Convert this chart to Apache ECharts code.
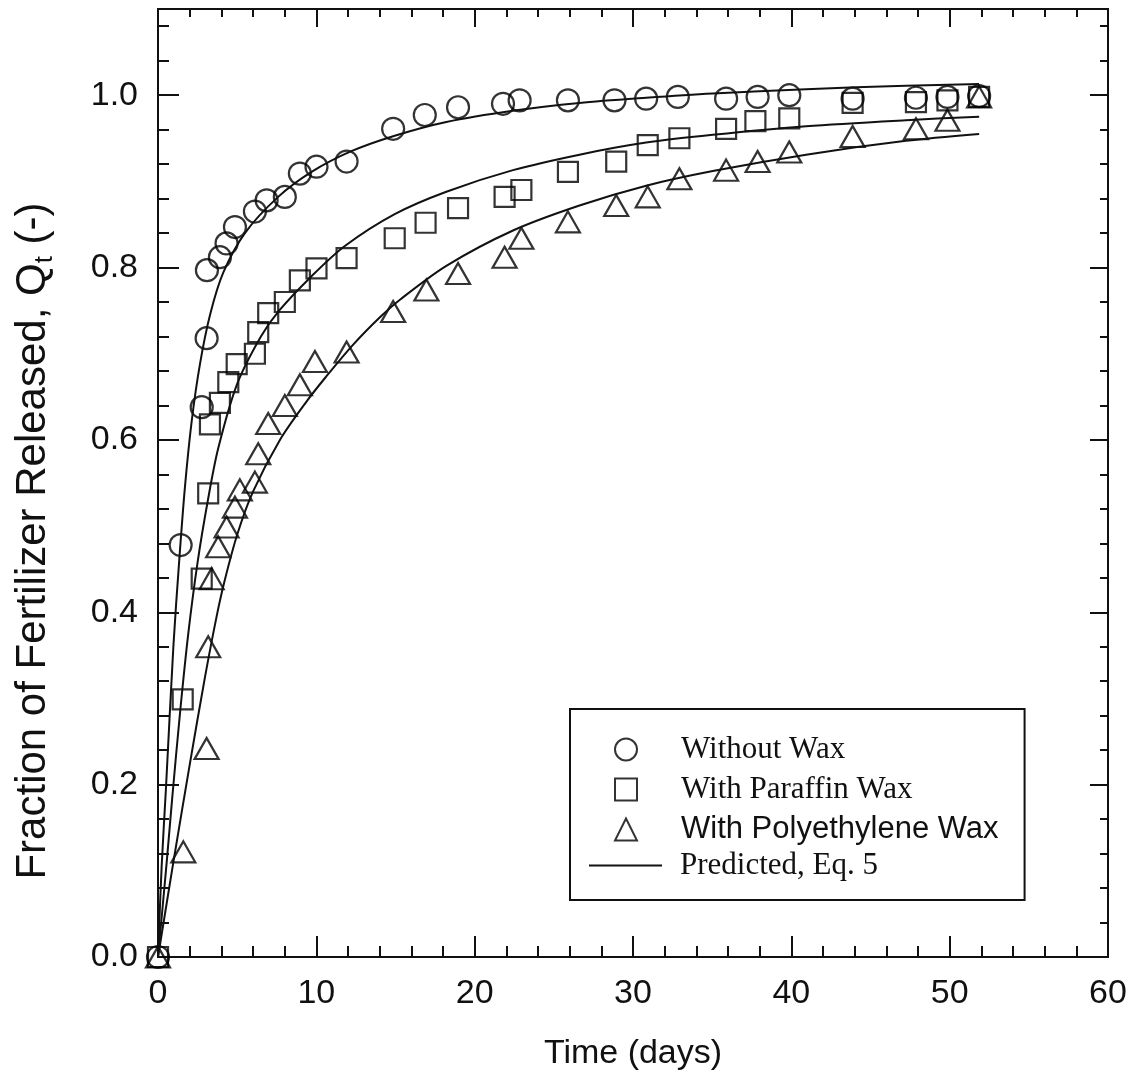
<!DOCTYPE html>
<html><head><meta charset="utf-8">
<script src="https://cdn.jsdelivr.net/npm/echarts@6/dist/echarts.min.js"></script>
<style>html,body{margin:0;padding:0;background:#fff}#c{width:1136px;height:1079px}</style>
</head><body><div id="c"></div>
<script>
// ---------- data ----------
const legendNames = ['Without Wax', 'With Paraffin Wax', 'With Polyethylene Wax', 'Predicted, Eq. 5'];
const xTickLabels = ['0', '10', '20', '30', '40', '50', '60'];
const yTickLabels = ['0.0', '0.2', '0.4', '0.6', '0.8', '1.0'];

const withoutWax = [[0,0],[1.43,0.478],[2.76,0.638],[3.07,0.718],[3.09,0.797],[3.91,0.812],[4.33,0.828],[4.86,0.847],[6.12,0.865],[6.86,0.878],[8.01,0.882],[8.96,0.909],[10.01,0.917],[11.91,0.923],[14.85,0.961],[16.85,0.977],[18.95,0.986],[21.79,0.990],[22.84,0.994],[25.89,0.994],[28.83,0.994],[30.83,0.996],[32.83,0.998],[35.88,0.996],[37.87,0.998],[39.87,1.000],[43.87,0.996],[47.87,0.997],[49.86,0.998],[51.86,0.999]];
const paraffinWax = [[0,0],[1.56,0.299],[2.76,0.439],[3.17,0.538],[3.28,0.618],[3.91,0.643],[4.44,0.667],[4.97,0.688],[6.12,0.700],[6.33,0.725],[6.96,0.747],[8.01,0.760],[8.96,0.785],[10.01,0.799],[11.91,0.811],[14.95,0.834],[16.9,0.852],[18.95,0.869],[21.89,0.882],[22.95,0.890],[25.89,0.911],[28.94,0.923],[30.93,0.942],[32.93,0.950],[35.88,0.961],[37.73,0.970],[39.87,0.973],[43.87,0.991],[47.87,0.992],[49.86,0.994],[51.86,0.998]];
const polyethyleneWax = [[0,0],[1.60,0.122],[3.07,0.242],[3.17,0.360],[3.39,0.439],[3.80,0.476],[4.33,0.499],[4.86,0.522],[5.17,0.542],[6.12,0.551],[6.33,0.584],[6.96,0.619],[8.01,0.640],[8.96,0.664],[9.91,0.691],[11.91,0.702],[14.85,0.749],[16.95,0.774],[18.95,0.793],[21.89,0.812],[22.95,0.834],[25.89,0.853],[28.94,0.872],[30.93,0.882],[32.93,0.903],[35.88,0.913],[37.87,0.923],[39.87,0.934],[43.87,0.952],[47.87,0.961],[49.86,0.971],[51.86,0.998]];

const predictedNoWax = [[0,0],[0.23,0.105],[0.5,0.195],[0.97,0.36],[1.34,0.46],[1.70,0.545],[2.13,0.622],[2.65,0.688],[3.3,0.746],[4.12,0.794],[5.49,0.840],[7.59,0.882],[9.70,0.911],[12.21,0.935],[14.95,0.953],[18.21,0.969],[22.42,0.982],[26.62,0.991],[30.83,0.997],[35.04,1.002],[40.93,1.007],[47.24,1.011],[51.86,1.013]];
const predictedParaffin = [[0,0],[0.55,0.11],[0.9,0.185],[1.4,0.285],[1.91,0.375],[2.5,0.458],[3.17,0.532],[3.8,0.59],[5.0,0.665],[6.5,0.72],[7.65,0.75],[9.7,0.79],[11.8,0.825],[14.95,0.862],[18.21,0.888],[22.42,0.913],[26.62,0.931],[30.83,0.945],[35.04,0.954],[40.93,0.964],[47.24,0.971],[51.86,0.975]];
const predictedPolyethylene = [[0,0],[0.97,0.11],[2.02,0.225],[2.97,0.325],[3.7,0.395],[4.2,0.436],[5.0,0.49],[6.0,0.54],[7.7,0.6],[9.4,0.645],[10.6,0.673],[12.3,0.71],[14.0,0.742],[15.3,0.763],[18.21,0.802],[22.42,0.843],[26.62,0.872],[30.83,0.895],[35.04,0.912],[40.93,0.931],[47.24,0.947],[51.86,0.955]];

// ---------- chart ----------
const ink = '#111';
const sans = 'Liberation Sans, Arial, sans-serif';
const serif = 'Liberation Serif, Times New Roman, serif';

function xAxisDef(pos, major, minor, labels) {
  return {
    type: 'value', position: pos, min: 0, max: 60, interval: 10,
    axisLine: { show: true, onZero: false, lineStyle: { color: ink, width: 2 } },
    axisTick: { show: true, inside: true, length: major, lineStyle: { color: ink, width: 2 } },
    minorTick: { show: true, splitNumber: 5, length: minor, lineStyle: { color: ink, width: 2 } },
    splitLine: { show: false }, minorSplitLine: { show: false },
    axisLabel: labels ? { show: true, margin: 20, fontSize: 34, fontFamily: sans, color: ink,
      formatter: v => xTickLabels[Math.round(v / 10)] ?? '' } : { show: false },
    name: labels ? 'Time (days)' : '', nameLocation: 'middle', nameGap: 80,
    nameTextStyle: { fontSize: 34, fontFamily: sans, color: ink }
  };
}
function yAxisDef(pos, interval, len, labels) {
  return {
    type: 'value', position: pos, min: 0, max: 1.1, interval: interval,
    axisLine: { show: true, onZero: false, lineStyle: { color: ink, width: 2 } },
    axisTick: { show: true, inside: true, length: len, lineStyle: { color: ink, width: 2 } },
    splitLine: { show: false },
    axisLabel: labels ? { show: true, margin: 20, fontSize: 34, fontFamily: sans, color: ink, showMaxLabel: false,
      formatter: v => { const i = Math.round(v / 0.2); return Math.abs(v - i * 0.2) < 1e-6 ? (yTickLabels[i] ?? '') : ''; } } : { show: false }
  };
}

const markerStyle = { color: 'rgba(255,255,255,0)', borderColor: '#000', borderWidth: 2.2 };
function scatter(name, data, symbol, size) {
  return { name, type: 'scatter', data, symbol, symbolSize: size, itemStyle: markerStyle,
    xAxisIndex: 0, yAxisIndex: 0, z: 3, emphasis: { disabled: true } };
}
function curve(data) {
  return { name: legendNames[3], type: 'line', data, showSymbol: false, symbol: 'none',
    smooth: 0.3, lineStyle: { color: ink, width: 2 }, itemStyle: { color: ink },
    xAxisIndex: 0, yAxisIndex: 0, z: 4, emphasis: { disabled: true } };
}

const option = {
  backgroundColor: '#fff',
  animation: false,
  grid: { left: 158, right: 28, top: 9, bottom: 122, containLabel: false },
  xAxis: [ xAxisDef('bottom', 21, 11, true), xAxisDef('top', 18, 8, false) ],
  yAxis: [ yAxisDef('left', 0.2, 21, true), yAxisDef('left', 0.04, 11, false),
           yAxisDef('right', 0.2, 18, false), yAxisDef('right', 0.04, 8, false) ],
  legend: [{
    show: true, orient: 'vertical', left: 570, top: 709, selectedMode: false, z: 5,
    itemWidth: 22, itemHeight: 22, itemGap: 9,
    padding: [25, 26, 55, 44],
    borderColor: ink, borderWidth: 2, backgroundColor: '#fff',
    textStyle: { fontSize: 31, fontFamily: serif, color: ink, lineHeight: 30, padding: [0, 0, 0, 39] },
    data: [
      { name: legendNames[0], textStyle: { fontFamily: serif, fontSize: 31 } },
      { name: legendNames[1], textStyle: { fontFamily: serif, fontSize: 31 } },
      { name: legendNames[2], textStyle: { fontFamily: sans, fontSize: 31 } }
    ]
  }, {
    show: true, orient: 'vertical', left: 589, top: 850, selectedMode: false, z: 6,
    itemWidth: 73, itemHeight: 2, padding: 0,
    textStyle: { fontSize: 31, fontFamily: serif, color: ink, lineHeight: 30, padding: [0, 0, 0, 13] },
    data: [ { name: legendNames[3], icon: 'rect', itemStyle: { color: ink, borderWidth: 0 } } ]
  }],
  graphic: [{
    type: 'text', x: 33, y: 541, rotation: Math.PI / 2, silent: true,
    style: {
      text: 'Fraction of Fertilizer Released, Q{sub|t} (-)',
      fontSize: 42, fontFamily: sans, fill: ink,
      align: 'center', verticalAlign: 'middle', textAlign: 'center', textVerticalAlign: 'middle',
      rich: { sub: { fontSize: 26, fontFamily: sans, fill: ink, padding: [24, 0, 0, 0] } }
    }
  }],
  series: [
    curve(predictedNoWax), curve(predictedParaffin), curve(predictedPolyethylene),
    scatter(legendNames[0], withoutWax, 'circle', 22),
    scatter(legendNames[1], paraffinWax, 'rect', 20),
    scatter(legendNames[2], polyethyleneWax, 'triangle', [24, 21])
  ]
};
const chart = echarts.init(document.getElementById('c'), null, { renderer: 'canvas' });
chart.setOption(option);
</script></body></html>
